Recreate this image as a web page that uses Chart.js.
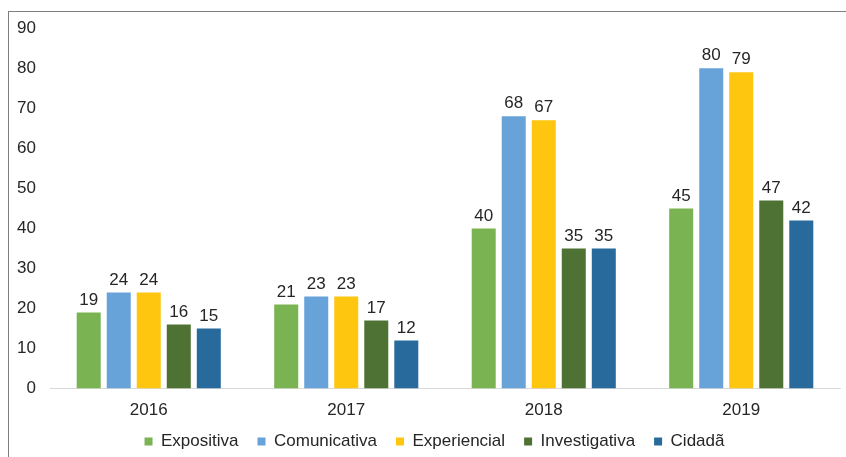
<!DOCTYPE html>
<html>
<head>
<meta charset="utf-8">
<script src="https://cdn.jsdelivr.net/npm/chart.js@4.4.0/dist/chart.umd.min.js"></script>
<style>
  html, body { margin: 0; padding: 0; background: #fff; }
  body { width: 846px; height: 457px; overflow: hidden; position: relative; }
  #frame {
    position: absolute; left: 8px; top: 11px; width: 838px; height: 446px;
    border-left: 1px solid #7f7f7f; border-top: 1px solid #7f7f7f;
  }
  #chart { display: block; }
</style>
</head>
<body>
<div id="frame"><canvas id="chart" width="837" height="445"></canvas></div>
<script>
const years = ['2016', '2017', '2018', '2019'];
const expositiva = [19, 21, 40, 45];
const comunicativa = [24, 23, 68, 80];
const experiencial = [24, 23, 67, 79];
const investigativa = [16, 17, 35, 47];
const cidada = [15, 12, 35, 42];
const yTicks = [0, 10, 20, 30, 40, 50, 60, 70, 80, 90];

const FONT = 'Liberation Sans, Arial, sans-serif';

// value labels on top of each bar
const barValues = {
  id: 'barValues',
  afterDatasetsDraw(chart) {
    const ctx = chart.ctx;
    ctx.save();
    ctx.font = '17px ' + FONT;
    ctx.fillStyle = '#262626';
    ctx.textAlign = 'center';
    ctx.textBaseline = 'bottom';
    chart.data.datasets.forEach((ds, i) => {
      chart.getDatasetMeta(i).data.forEach((bar, j) => {
        ctx.fillText(ds.data[j], bar.x, bar.y - 4);
      });
    });
    ctx.restore();
  }
};

// nudge the legend box a little right and up after layout (keeps a tall clip box)
const legendShift = {
  id: 'legendShift',
  afterLayout(chart) {
    const lg = chart.legend;
    lg.left += 10; lg.right += 10;
    lg.top -= 11; lg.bottom = lg.top + 60;
  }
};

const makeSet = (label, data, color) => ({
  label: label,
  data: data,
  backgroundColor: color,
  borderWidth: 0,
  barPercentage: 0.8,
  categoryPercentage: 0.76
});

new Chart(document.getElementById('chart').getContext('2d'), {
  type: 'bar',
  data: {
    labels: years,
    datasets: [
      makeSet('Expositiva', expositiva, '#7ab351'),
      makeSet('Comunicativa', comunicativa, '#67a3d9'),
      makeSet('Experiencial', experiencial, '#ffc610'),
      makeSet('Investigativa', investigativa, '#4e7234'),
      makeSet('Cidadã', cidada, '#276a9b')
    ]
  },
  options: {
    responsive: false,
    animation: false,
    layout: { padding: { top: 11, right: 6, left: 0, bottom: 0 } },
    scales: {
      y: {
        min: 0,
        max: 90,
        afterBuildTicks: (axis) => { axis.ticks = yTicks.map(v => ({ value: v })); },
        afterFit: (axis) => { axis.width = 41; },
        ticks: { font: { size: 17, family: FONT }, color: '#262626', padding: 6 },
        grid: { display: false },
        border: { display: false }
      },
      x: {
        ticks: { font: { size: 17, family: FONT }, color: '#262626', padding: 4 },
        grid: { display: false },
        border: { display: true, color: '#d9d9d9', width: 1 }
      }
    },
    plugins: {
      legend: {
        position: 'bottom',
        maxHeight: 32,
        labels: {
          boxWidth: 8,
          boxHeight: 8,
          padding: 19,
          color: '#262626',
          font: { size: 17, family: FONT }
        }
      },
      tooltip: { enabled: false }
    }
  },
  plugins: [barValues, legendShift]
});
</script>
</body>
</html>
